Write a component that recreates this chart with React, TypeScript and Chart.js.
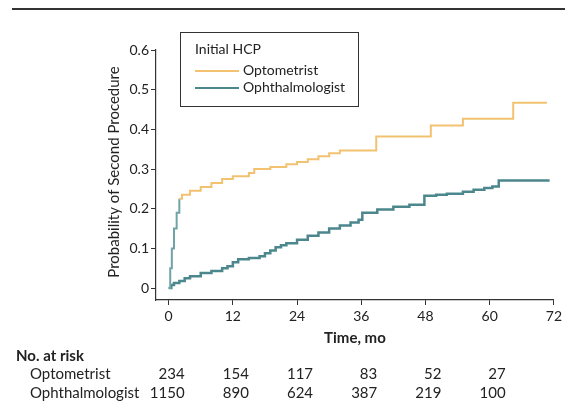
import React, { useEffect, useRef } from "react";
import { Chart, registerables } from "chart.js";
Chart.register(...registerables);

// Optometrist cumulative probability (time in months, probability)
const optTimes = [0, 0.3, 0.6, 1.0, 1.5, 2.0, 2.5, 4, 6, 8, 10, 12, 15, 16, 19, 22, 24, 26, 28, 30, 32, 38.8, 49, 55, 64.4, 70.7];
const optValues = [0, 0.05, 0.1, 0.15, 0.19, 0.225, 0.235, 0.245, 0.255, 0.265, 0.275, 0.282, 0.29, 0.3, 0.305, 0.312, 0.318, 0.325, 0.332, 0.34, 0.347, 0.382, 0.41, 0.427, 0.467, 0.467];

// Ophthalmologist cumulative probability
const ophTimes = [0, 0.5, 1, 2, 3, 4, 6, 8, 10, 11, 12, 13, 15, 17, 18, 19, 20, 21, 22, 24, 26, 28, 30, 32, 34, 35.5, 36.2, 39, 42, 45, 47.8, 50, 52, 55, 57, 59, 60.5, 61.7, 71.2];
const ophValues = [0, 0.008, 0.013, 0.018, 0.025, 0.03, 0.038, 0.043, 0.05, 0.055, 0.065, 0.073, 0.076, 0.08, 0.088, 0.095, 0.103, 0.108, 0.113, 0.122, 0.132, 0.14, 0.15, 0.158, 0.165, 0.172, 0.19, 0.198, 0.205, 0.21, 0.233, 0.235, 0.238, 0.243, 0.248, 0.252, 0.256, 0.271, 0.271];

// Number at risk table
const riskTimes = [0, 12, 24, 36, 48, 60];
const optRisk = [234, 154, 117, 83, 52, 27];
const ophRisk = [1150, 890, 624, 387, 219, 100];

const xTickStep = 12;
const yTickStep = 0.1;

const ORANGE = "#F2C271";
const TEAL = "#4B878C";
const TEXT = "#222222";
const FONT = "Lato, 'Open Sans', sans-serif";

export default function App() {
  const ref = useRef<HTMLCanvasElement>(null);

  useEffect(() => {
    if (!ref.current) return;

    const overlay = {
      id: "overlay",
      afterDraw(chart: any) {
        const ctx = chart.ctx as CanvasRenderingContext2D;
        const xs = chart.scales.x;
        const area = chart.chartArea;
        ctx.save();
        ctx.fillStyle = TEXT;

        // Y axis title
        ctx.save();
        ctx.translate(114, 172);
        ctx.rotate(-Math.PI / 2);
        ctx.textAlign = "center";
        ctx.textBaseline = "middle";
        ctx.font = `15px ${FONT}`;
        ctx.fillText("Probability of Second Procedure", 0, 0);
        ctx.restore();

        // X axis title
        ctx.textAlign = "center";
        ctx.textBaseline = "middle";
        ctx.font = `bold 15px ${FONT}`;
        ctx.fillText("Time, mo", (area.left + area.right) / 2, 338);

        // Number at risk
        ctx.textAlign = "left";
        ctx.font = `bold 15px ${FONT}`;
        ctx.fillText("No. at risk", 16, 356);
        ctx.font = `15px ${FONT}`;
        ctx.fillText("Optometrist", 30, 374);
        ctx.fillText("Ophthalmologist", 30, 393);
        ctx.textAlign = "right";
        riskTimes.forEach((t, i) => {
          const px = xs.getPixelForValue(t) + 16;
          ctx.fillText(String(optRisk[i]), px, 374);
          ctx.fillText(String(ophRisk[i]), px, 393);
        });

        // Legend box
        ctx.strokeStyle = "#333";
        ctx.lineWidth = 1;
        ctx.fillStyle = "#fff";
        ctx.fillRect(180.5, 32.5, 178, 74);
        ctx.strokeRect(180.5, 32.5, 178, 74);
        ctx.fillStyle = TEXT;
        ctx.textAlign = "left";
        ctx.font = `14px ${FONT}`;
        ctx.fillText("Initial HCP", 195, 49);
        ctx.lineWidth = 2;
        ctx.strokeStyle = ORANGE;
        ctx.beginPath();
        ctx.moveTo(195, 71);
        ctx.lineTo(239, 71);
        ctx.stroke();
        ctx.fillText(chart.data.datasets[0].label, 243, 70);
        ctx.strokeStyle = TEAL;
        ctx.beginPath();
        ctx.moveTo(195, 88);
        ctx.lineTo(239, 88);
        ctx.stroke();
        ctx.fillText(chart.data.datasets[1].label, 243, 87);
        ctx.restore();
      },
    };

    const chart = new Chart(ref.current, {
      type: "line",
      data: {
        datasets: [
          {
            label: "Optometrist",
            data: optTimes.map((t, i) => ({ x: t, y: optValues[i] })),
            borderColor: ORANGE,
            borderWidth: 2,
            pointRadius: 0,
            stepped: "before",
            segment: {
              borderColor: (c: any) => (c.p1.parsed.x <= 2.0 ? "#6FA3A8" : undefined),
            },
          },
          {
            label: "Ophthalmologist",
            data: ophTimes.map((t, i) => ({ x: t, y: ophValues[i] })),
            borderColor: TEAL,
            borderWidth: 2.5,
            pointRadius: 0,
            stepped: "before",
          },
        ],
      },
      options: {
        responsive: false,
        animation: false,
        layout: { padding: { top: 50, right: 6, left: 0, bottom: 0 } },
        plugins: { legend: { display: false }, tooltip: { enabled: false } },
        scales: {
          x: {
            type: "linear",
            min: -2.36,
            max: 72,
            afterFit: (s: any) => {
              s.height = 114;
            },
            ticks: {
              stepSize: xTickStep,
              includeBounds: false,
              color: TEXT,
              padding: 3,
              maxRotation: 0,
              font: { family: FONT, size: 14 },
            },
            grid: { display: true, drawOnChartArea: false, drawTicks: true, tickLength: 5, color: "#333" },
            border: { display: true, color: "#333", width: 1.2 },
          },
          y: {
            type: "linear",
            min: -0.03,
            max: 0.6,
            afterFit: (s: any) => {
              s.width = 156;
            },
            ticks: {
              stepSize: yTickStep,
              includeBounds: false,
              color: TEXT,
              padding: 2,
              font: { family: FONT, size: 14 },
              callback: (v: any) => (Math.abs(v) < 1e-9 ? "0" : Number(v).toFixed(1)),
            },
            grid: { display: true, drawOnChartArea: false, drawTicks: true, tickLength: 5, color: "#333" },
            border: { display: true, color: "#333", width: 1.2 },
          },
        },
      },
      plugins: [overlay],
    });
    return () => chart.destroy();
  }, []);

  return (
    <div style={{ position: "absolute", left: 0, top: 0, width: 565, height: 414, background: "#fff" }}>
      <div style={{ position: "absolute", left: 12, top: 8, width: 553, height: 2, background: "#333" }} />
      <canvas ref={ref} width={565} height={414} style={{ position: "absolute", left: 0, top: 0 }} />
    </div>
  );
}
